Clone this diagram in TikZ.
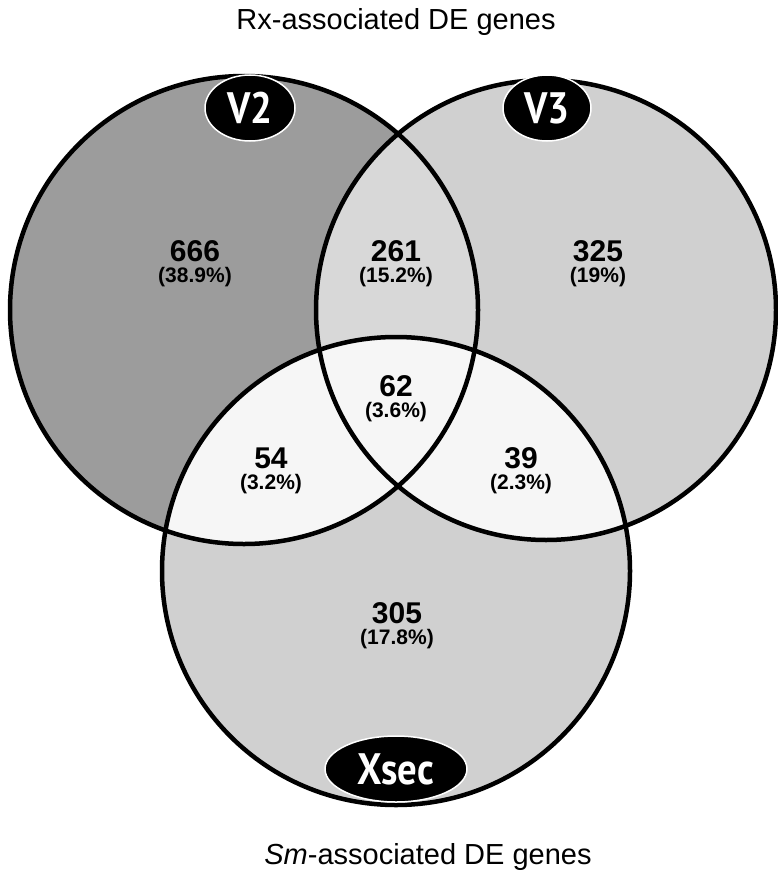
\documentclass[tikz,border=0pt]{standalone}
\usepackage{fontspec}
\setmainfont{Liberation Sans}
\newfontfamily\labfont[FakeStretch=0.88]{PT Sans}
\usetikzlibrary{shapes.geometric}
\definecolor{darkreg}{HTML}{9C9C9C}
\definecolor{lightreg}{HTML}{D0D0D0}
\definecolor{midreg}{HTML}{D8D8D8}
\definecolor{palereg}{HTML}{F6F6F6}
\tikzset{
  outline/.style={draw=black,line width=4.5pt},
  setlabel/.style={ellipse,fill=black,draw=white,line width=1.5pt,text=white,inner sep=0pt,
    font=\labfont\bfseries\fontsize{44}{44}\selectfont},
  numtext/.style={anchor=base,inner sep=0pt,font=\bfseries\fontsize{30}{32}\selectfont},
  pcttext/.style={anchor=base,inner sep=0pt,font=\bfseries\fontsize{21}{23}\selectfont},
  captext/.style={anchor=base,inner sep=0pt,font=\fontsize{29}{32}\selectfont}
}
\begin{document}
\begin{tikzpicture}[x=1pt,y=-1pt]
\useasboundingbox (0,0) rectangle (777,875);
\def\pathA{(244,310) circle[radius=234]}
\def\pathB{(546,310) circle[radius=230]}
\def\pathC{(396,571) circle[radius=234]}
% region fills
\fill[darkreg] \pathA;
\fill[lightreg] \pathB;
\fill[lightreg] \pathC;
\begin{scope}
  \clip \pathA;
  \fill[midreg] \pathB;
\end{scope}
\begin{scope}
  \clip \pathC;
  \fill[palereg] \pathA;
  \fill[palereg] \pathB;
\end{scope}
% outlines
\draw[outline] \pathA;
\draw[outline] \pathB;
\draw[outline] \pathC;
% set labels
\node[setlabel,minimum width=90pt,minimum height=66pt] (labV2) at (250,108) {V2};
\node[setlabel,minimum width=88pt,minimum height=66pt] (labV3) at (547,108) {V3};
\node[setlabel,minimum width=142pt,minimum height=66pt] (labX) at (396,769) {Xsec};
% counts
\node[numtext] (n666) at (195,261) {666};
\node[pcttext] (p666) at (195,282) {(38.9\%)};
\node[numtext] (n261) at (396,261) {261};
\node[pcttext] (p261) at (396,282) {(15.2\%)};
\node[numtext] (n325) at (598,261) {325};
\node[pcttext] (p325) at (598,282) {(19\%)};
\node[numtext] (n62) at (396,396) {62};
\node[pcttext] (p62) at (396,417) {(3.6\%)};
\node[numtext] (n54) at (271,468) {54};
\node[pcttext] (p54) at (271,489) {(3.2\%)};
\node[numtext] (n39) at (521,468) {39};
\node[pcttext] (p39) at (521,489) {(2.3\%)};
\node[numtext] (n305) at (397,623) {305};
\node[pcttext] (p305) at (397,644) {(17.8\%)};
% captions
\node[captext] (title) at (396,30) {Rx-associated DE genes};
\node[captext] (bottom) at (428,864) {\textit{Sm}-associated DE genes};
\end{tikzpicture}
\end{document}
